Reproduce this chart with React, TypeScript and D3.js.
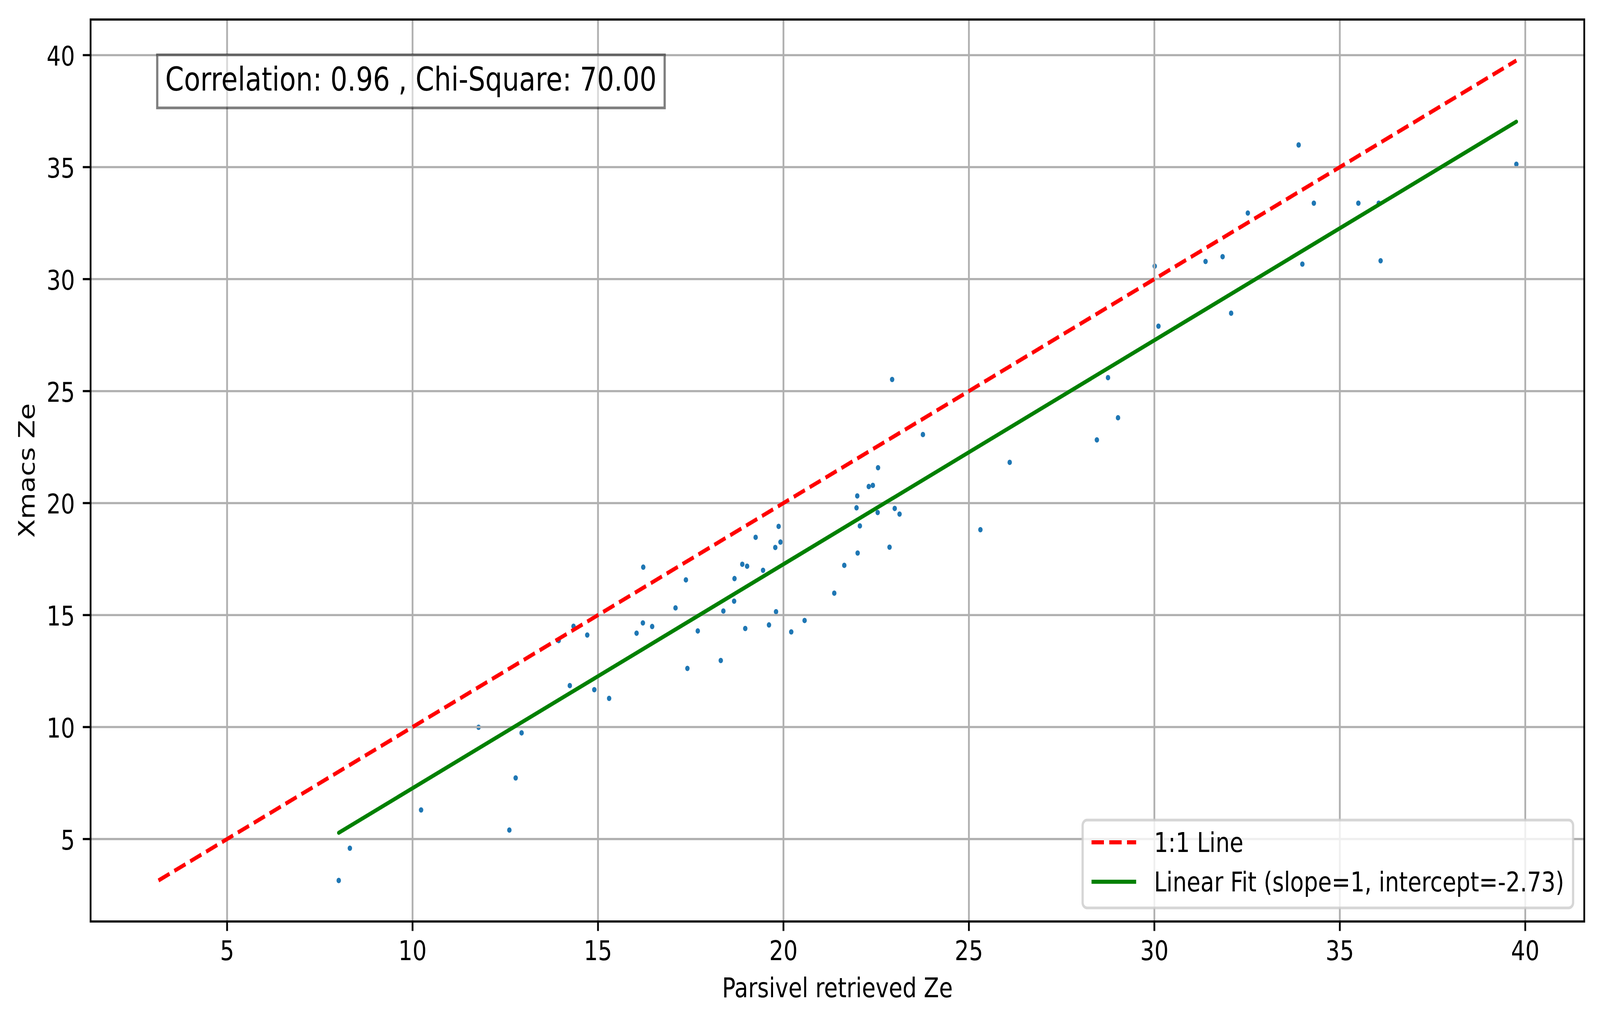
import { useEffect, useRef } from "react"
import * as d3 from "d3"

// Parsivel vs Xmacs reflectivity
const parsivelZe = [
  8.01, 8.31, 10.23, 11.78, 12.61, 12.78, 12.94, 13.94, 14.24, 14.34, 14.71, 14.9, 15.3, 16.04, 16.21, 16.22, 16.46,
  17.09, 17.37, 17.41, 17.69, 18.31, 18.38, 18.67, 18.68, 18.89, 18.97, 19.02, 19.25, 19.45, 19.61, 19.78, 19.8, 19.87,
  19.92, 20.21, 20.57, 21.37, 21.64, 21.97, 21.99, 22.0, 22.06, 22.3, 22.41, 22.54, 22.55, 22.86, 22.93, 23.0, 23.13,
  23.76, 25.31, 26.1, 28.45, 28.75, 29.02, 30.01, 30.11, 31.38, 31.84, 32.07, 32.52, 33.89, 33.99, 34.3, 35.5, 36.05,
  36.1, 39.76,
]
const xmacsZe = [
  3.15, 4.59, 6.3, 9.99, 5.4, 7.73, 9.74, 13.86, 11.85, 14.5, 14.11, 11.67, 11.28, 14.19, 14.65, 17.14, 14.49, 15.32,
  16.57, 12.62, 14.29, 12.97, 15.18, 15.62, 16.63, 17.27, 14.4, 17.18, 18.47, 17.0, 14.56, 18.02, 15.15, 18.96, 18.26,
  14.25, 14.76, 15.98, 17.22, 19.79, 20.32, 17.77, 18.98, 20.74, 20.79, 19.58, 21.58, 18.03, 25.52, 19.76, 19.51, 23.06,
  18.81, 21.82, 22.82, 25.6, 23.81, 30.58, 27.9, 30.79, 31.0, 28.48, 32.95, 35.99, 30.67, 33.39, 33.39, 33.39, 30.82,
  35.13,
]

const fitSlope = 1
const fitIntercept = -2.73
const tickValues = [5, 10, 15, 20, 25, 30, 35, 40]
const statsText = "Correlation: 0.96 , Chi-Square: 70.00"
const legendLabels = ["1:1 Line", `Linear Fit (slope=${fitSlope}, intercept=${fitIntercept})`]

const W = 4981
const H = 2620

export default function App() {
  const svgRef = useRef<SVGSVGElement>(null)

  useEffect(() => {
    if (!svgRef.current) return
    const svg = d3.select(svgRef.current)
    svg.selectAll("*").remove()

    const pt = 500 / 72
    const font = "DejaVu Sans"
    const tickFs = 10 * pt
    const margin = { left: 282, right: 4932, top: 50, bottom: 2360 }

    // 1:1 line spans the full data range; axes get matplotlib's 5% margins
    const lo = Math.min(d3.min(parsivelZe)!, d3.min(xmacsZe)!)
    const hi = Math.max(d3.max(parsivelZe)!, d3.max(xmacsZe)!)
    const pad = (hi - lo) * 0.05
    const x = d3.scaleLinear().domain([lo - pad, hi + pad]).range([margin.left, margin.right])
    const y = d3.scaleLinear().domain([lo - pad, hi + pad]).range([margin.bottom, margin.top])

    svg.append("rect").attr("width", W).attr("height", H).attr("fill", "white")

    // puntos
    svg
      .append("g")
      .selectAll("circle")
      .data(parsivelZe)
      .join("circle")
      .attr("cx", (d) => x(d))
      .attr("cy", (_, i) => y(xmacsZe[i]))
      .attr("r", 6.9)
      .attr("fill", "#1f77b4")

    // grid
    const grid = svg.append("g").attr("stroke", "#b0b0b0").attr("stroke-width", 0.8 * pt)
    tickValues.forEach((t) => {
      grid.append("line").attr("x1", x(t)).attr("x2", x(t)).attr("y1", margin.top).attr("y2", margin.bottom)
      grid.append("line").attr("y1", y(t)).attr("y2", y(t)).attr("x1", margin.left).attr("x2", margin.right)
    })

    const line = d3
      .line<number[]>()
      .x((d) => x(d[0]))
      .y((d) => y(d[1]))

    const xMin = d3.min(parsivelZe)!
    const xMax = d3.max(parsivelZe)!

    svg
      .append("path")
      .attr("d", line([[lo, lo], [hi, hi]]))
      .attr("fill", "none")
      .attr("stroke", "#ff0000")
      .attr("stroke-width", 1.5 * pt)
      .attr("stroke-dasharray", `${5.55 * pt},${2.4 * pt}`)

    svg
      .append("path")
      .attr("d", line([[xMin, fitSlope * xMin + fitIntercept], [xMax, fitSlope * xMax + fitIntercept]]))
      .attr("fill", "none")
      .attr("stroke", "#008000")
      .attr("stroke-width", 1.5 * pt)
      .attr("stroke-linecap", "round")

    // spines
    svg
      .append("rect")
      .attr("x", margin.left)
      .attr("y", margin.top)
      .attr("width", margin.right - margin.left)
      .attr("height", margin.bottom - margin.top)
      .attr("fill", "none")
      .attr("stroke", "black")
      .attr("stroke-width", 0.8 * pt)

    // ticks and labels
    const tl = 3.5 * pt
    const axes = svg.append("g").attr("font-family", font).attr("font-size", tickFs).attr("fill", "black")
    tickValues.forEach((t) => {
      axes
        .append("line")
        .attr("x1", x(t))
        .attr("x2", x(t))
        .attr("y1", margin.bottom)
        .attr("y2", margin.bottom + tl)
        .attr("stroke", "black")
        .attr("stroke-width", 0.8 * pt)
      axes
        .append("text")
        .attr("x", x(t))
        .attr("y", margin.bottom + 2 * tl + 0.729 * tickFs)
        .attr("text-anchor", "middle")
        .text(t)
      axes
        .append("line")
        .attr("x1", margin.left - tl)
        .attr("x2", margin.left)
        .attr("y1", y(t))
        .attr("y2", y(t))
        .attr("stroke", "black")
        .attr("stroke-width", 0.8 * pt)
      axes
        .append("text")
        .attr("x", margin.left - 2 * tl)
        .attr("y", y(t) + 27)
        .attr("text-anchor", "end")
        .text(t)
    })

    axes
      .append("text")
      .attr("x", (margin.left + margin.right) / 2)
      .attr("y", 2554)
      .attr("text-anchor", "middle")
      .text("Parsivel retrieved Ze")

    axes
      .append("text")
      .attr("transform", `translate(108,${(margin.top + margin.bottom) / 2}) rotate(-90)`)
      .attr("text-anchor", "middle")
      .text("Xmacs Ze")

    // caja de estadisticas
    const statFs = 12 * pt
    const sx = margin.left + 0.05 * (margin.right - margin.left)
    const sTop = margin.top + 0.05 * (margin.bottom - margin.top)
    const boxPad = 0.3 * statFs
    const statBox = svg.append("rect")
    const stat = svg
      .append("text")
      .attr("x", sx)
      .attr("y", sTop + 0.8 * statFs)
      .attr("font-family", font)
      .attr("font-size", statFs)
      .text(statsText)
    const sw = (stat.node() as SVGTextElement).getComputedTextLength()
    statBox
      .attr("x", sx - boxPad)
      .attr("y", sTop - boxPad)
      .attr("width", sw + 2 * boxPad)
      .attr("height", 1.03 * statFs + 2 * boxPad)
      .attr("fill", "white")
      .attr("fill-opacity", 0.5)
      .attr("stroke", "black")
      .attr("stroke-opacity", 0.5)
      .attr("stroke-width", 1 * pt)

    // leyenda
    const lf = 10 * pt
    const legend = svg.append("g")
    const lBox = legend.append("rect")
    const lRight = margin.right - 0.5 * lf
    const lBottom = margin.bottom - 0.5 * lf
    const lHeight = 225
    const lTop = lBottom - lHeight
    const rowY = [lTop + 57, lTop + 158]
    const texts = legendLabels.map((lab, i) =>
      legend
        .append("text")
        .attr("y", rowY[i] + 25)
        .attr("font-family", font)
        .attr("font-size", lf)
        .text(lab),
    )
    const tw = d3.max(texts, (t) => (t.node() as SVGTextElement).getComputedTextLength())!
    const lLeft = lRight - (0.8 * lf + 2 * lf + 0.8 * lf + tw)
    texts.forEach((t) => t.attr("x", lLeft + 0.4 * lf + 2.8 * lf))
    lBox
      .attr("x", lLeft)
      .attr("y", lTop)
      .attr("width", lRight - lLeft)
      .attr("height", lHeight)
      .attr("rx", 0.2 * lf)
      .attr("fill", "white")
      .attr("fill-opacity", 0.8)
      .attr("stroke", "#cccccc")
      .attr("stroke-opacity", 0.8)
      .attr("stroke-width", 1 * pt)
    const hx0 = lLeft + 0.4 * lf
    const hx1 = hx0 + 2 * lf
    legend
      .append("line")
      .attr("x1", hx0)
      .attr("x2", hx1)
      .attr("y1", rowY[0])
      .attr("y2", rowY[0])
      .attr("stroke", "#ff0000")
      .attr("stroke-width", 1.5 * pt)
      .attr("stroke-dasharray", `${5.55 * pt},${2.4 * pt}`)
    legend
      .append("line")
      .attr("x1", hx0)
      .attr("x2", hx1)
      .attr("y1", rowY[1])
      .attr("y2", rowY[1])
      .attr("stroke", "#008000")
      .attr("stroke-width", 1.5 * pt)
  }, [])

  return (
    <svg
      ref={svgRef}
      viewBox={`0 0 ${W} ${H}`}
      preserveAspectRatio="none"
      style={{ position: "fixed", left: 0, top: 0, width: "100vw", height: "100vh", display: "block" }}
    />
  )
}
